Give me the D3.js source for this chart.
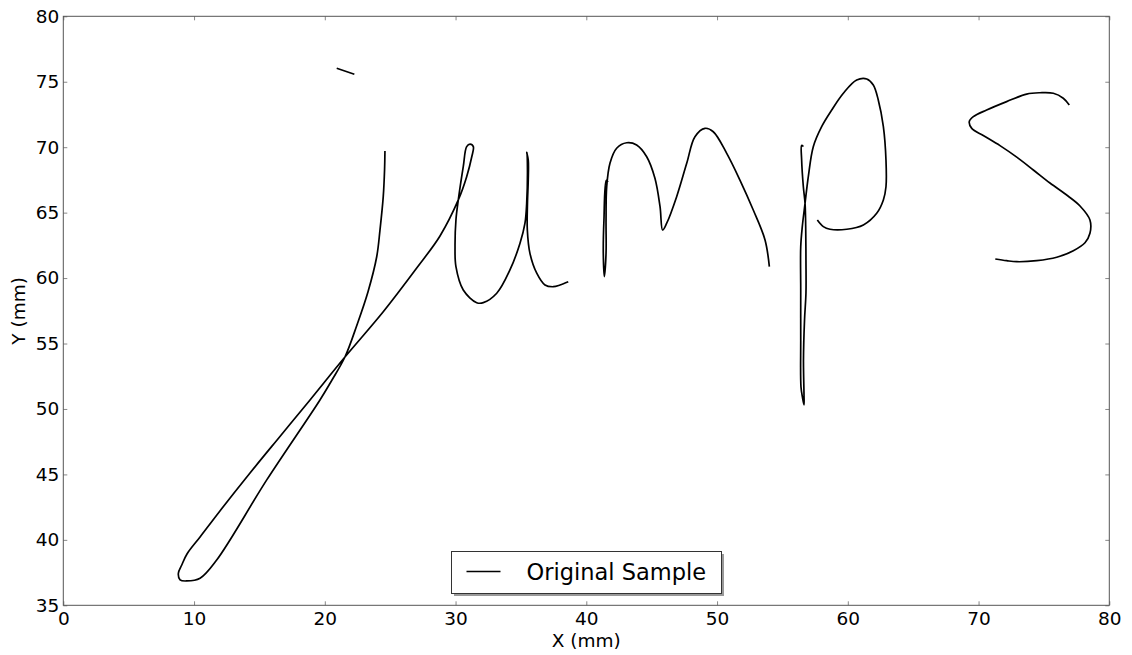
<!DOCTYPE html>
<html>
<head>
<meta charset="utf-8">
<script src="https://cdn.jsdelivr.net/npm/d3@7"></script>
<style>
  body { margin: 0; background: #fff; }
  text { font-family: "DejaVu Sans", sans-serif; fill: #000; }
</style>
</head>
<body>
<script>
var width = 1132,
    height = 655;

var margin = { left: 63.3, right: 1132 - 1109.3, top: 16.3, bottom: 655 - 605.3 };

// Ticks
var xTicks = [0, 10, 20, 30, 40, 50, 60, 70, 80];
var yTicks = [35, 40, 45, 50, 55, 60, 65, 70, 75, 80];

// Les traits de l'ecriture "jumps" (x, y en mm)
var strokeDot = [[20.91, 76.03], [22.26, 75.57]];

var strokeJU = [
    [24.60, 69.71], [24.57, 68.26], [24.47, 66.22], [24.22, 63.67], [23.97, 61.63],
    [23.30, 58.94], [22.46, 56.42], [21.54, 53.97], [20.55, 52.21], [19.63, 50.69],
    [15.56, 44.58], [11.73, 38.46], [10.46, 37.07], [9.44, 36.86], [8.93, 36.94],
    [8.80, 37.45], [9.06, 38.08], [9.46, 38.92], [10.46, 40.22], [11.98, 42.21],
    [14.28, 45.11], [16.57, 47.90], [18.87, 50.69], [21.54, 53.97], [24.47, 57.43],
    [27.03, 60.77], [28.81, 63.22], [30.21, 65.97], [30.85, 67.75], [31.24, 69.27],
    [31.36, 70.04], [31.11, 70.24], [30.85, 70.04], [30.59, 68.51], [30.21, 65.97],
    [30.03, 64.44], [29.96, 62.40], [30.03, 60.87], [30.59, 59.09], [31.62, 58.12],
    [32.12, 58.12], [33.15, 58.84], [34.16, 60.62], [34.93, 62.66], [35.31, 64.19],
    [35.44, 65.71], [35.50, 68.26], [35.46, 69.56], [35.44, 69.61], [35.56, 69.02],
    [35.56, 67.49], [35.50, 65.71], [35.49, 63.67], [35.69, 61.89], [36.21, 60.37],
    [36.84, 59.47], [37.48, 59.34], [37.99, 59.47], [38.62, 59.72]
];

var strokeM = [
    [41.66, 67.34], [41.53, 67.46], [41.35, 64.44], [41.30, 61.89], [41.38, 60.11],
    [41.51, 61.89], [41.51, 64.44], [41.56, 66.98], [41.81, 68.77], [42.32, 69.92],
    [43.09, 70.34], [43.85, 70.17], [44.62, 69.27], [45.25, 67.62], [45.64, 65.45],
    [45.84, 63.67], [46.15, 64.19], [46.91, 66.22], [47.68, 68.77], [48.31, 70.80],
    [49.08, 71.44], [49.71, 71.18], [50.74, 69.53], [51.75, 67.49], [52.77, 65.20],
    [53.67, 62.91], [54.00, 60.87]
];

var strokeP = [
    [56.60, 70.05], [56.47, 70.13], [56.47, 69.02], [56.60, 66.98], [56.73, 65.71],
    [56.78, 63.93], [56.80, 61.38], [56.80, 58.86], [56.69, 56.80], [56.61, 53.74],
    [56.65, 51.07], [56.65, 50.31], [56.54, 50.84], [56.42, 51.68], [56.40, 55.27],
    [56.40, 59.09], [56.40, 62.40], [56.52, 63.93], [56.73, 65.71], [56.98, 67.75],
    [57.36, 70.04], [58.00, 71.57], [58.77, 72.84], [59.66, 74.12], [60.68, 75.13],
    [61.45, 75.21], [61.95, 74.75], [62.33, 73.61], [62.72, 71.57], [62.92, 69.02],
    [62.92, 66.98], [62.72, 65.97], [62.21, 64.95], [61.19, 64.06], [59.92, 63.73],
    [58.64, 63.73], [58.13, 63.93], [57.67, 64.44]
];

var strokeS = [
    [76.94, 73.22], [76.48, 73.74], [75.72, 74.12], [74.70, 74.16], [73.68, 74.06],
    [72.15, 73.48], [70.62, 72.84], [69.60, 72.33], [69.29, 71.95], [69.48, 71.44],
    [70.36, 70.89], [71.64, 70.12], [72.92, 69.24], [74.19, 68.26], [75.46, 67.26],
    [76.84, 66.27], [77.76, 65.51], [78.52, 64.44], [78.52, 63.42], [78.14, 62.70],
    [77.25, 62.09], [75.98, 61.59], [74.45, 61.33], [72.92, 61.25], [72.15, 61.33],
    [71.28, 61.46]
];

var strokes = [strokeDot, strokeJU, strokeM, strokeP, strokeS];

var svg = d3.select("body")
    .append("svg")
    .attr("width", width)
    .attr("height", height);

var x = d3.scaleLinear().domain([0, 80]).range([margin.left, width - margin.right]);
var y = d3.scaleLinear().domain([35, 80]).range([height - margin.bottom, margin.top]);

// Axes (ticks vers l'interieur, comme matplotlib)
var gx = svg.append("g")
    .attr("transform", "translate(0," + y(35) + ")")
    .call(d3.axisBottom(x).tickValues(xTicks).tickSize(-4).tickSizeOuter(0).tickPadding(7));

var gx2 = svg.append("g")
    .attr("transform", "translate(0," + y(80) + ")")
    .call(d3.axisTop(x).tickValues(xTicks).tickSize(-4).tickSizeOuter(0).tickFormat(""));

var gy = svg.append("g")
    .attr("transform", "translate(" + x(0) + ",0)")
    .call(d3.axisLeft(y).tickValues(yTicks).tickSize(-4).tickSizeOuter(0).tickPadding(4));

var gy2 = svg.append("g")
    .attr("transform", "translate(" + x(80) + ",0)")
    .call(d3.axisRight(y).tickValues(yTicks).tickSize(-4).tickSizeOuter(0).tickFormat(""));

[gx, gx2, gy, gy2].forEach(function (g) {
    g.select(".domain").remove();
    g.selectAll(".tick line").attr("stroke", "#888");
    g.selectAll(".tick text")
        .attr("font-family", "DejaVu Sans, sans-serif")
        .attr("font-size", "18.5px")
        .attr("fill", "#000");
});

// Cadre
svg.append("rect")
    .attr("x", x(0))
    .attr("y", y(80))
    .attr("width", x(80) - x(0))
    .attr("height", y(35) - y(80))
    .attr("fill", "none")
    .attr("stroke", "#555")
    .attr("stroke-width", 1);

// Les traits
var line = d3.line()
    .x(function (d) { return x(d[0]); })
    .y(function (d) { return y(d[1]); })
    .curve(d3.curveCatmullRom.alpha(0.5));

svg.append("g")
    .selectAll("path")
    .data(strokes)
    .join("path")
    .attr("d", line)
    .attr("fill", "none")
    .attr("stroke", "#000")
    .attr("stroke-width", 1.7)
    .attr("stroke-linejoin", "round")
    .attr("stroke-linecap", "butt");

// Titres des axes
svg.append("text")
    .attr("x", (x(0) + x(80)) / 2)
    .attr("y", 646.5)
    .attr("text-anchor", "middle")
    .attr("font-size", "18.5px")
    .text("X (mm)");

svg.append("text")
    .attr("transform", "translate(25," + (y(35) + y(80)) / 2 + ") rotate(-90)")
    .attr("text-anchor", "middle")
    .attr("font-size", "18.5px")
    .text("Y (mm)");

// Legende
var legend = svg.append("g").attr("transform", "translate(451.5,551.5)");

legend.append("rect")
    .attr("x", 2.5)
    .attr("y", 2.5)
    .attr("width", 270)
    .attr("height", 42)
    .attr("fill", "#999");

legend.append("rect")
    .attr("width", 270)
    .attr("height", 42)
    .attr("fill", "#fff")
    .attr("stroke", "#333")
    .attr("stroke-width", 1);

legend.append("line")
    .attr("x1", 15)
    .attr("x2", 49)
    .attr("y1", 20)
    .attr("y2", 20)
    .attr("stroke", "#000")
    .attr("stroke-width", 1.5);

legend.append("text")
    .attr("x", 75)
    .attr("y", 28.5)
    .attr("font-size", "22.5px")
    .text("Original Sample");
</script>
</body>
</html>
